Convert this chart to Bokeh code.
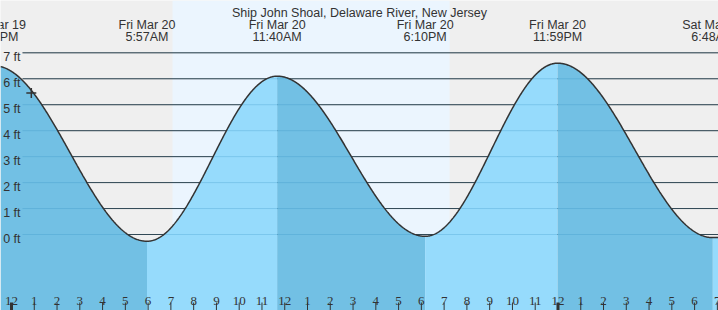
import numpy as np
from bokeh.plotting import figure
from bokeh.models import Range1d, Label
from bokeh.core.properties import value
from bokeh.embed import file_html
from bokeh.resources import INLINE

# ---------------- data (hours since Fri Mar 20 00:00, heights in ft) ----------------
title = "Ship John Shoal, Delaware River, New Jersey"
event_hours = [-0.77, 5.95, 11.667, 18.167, 23.983, 30.8]
event_heights = [6.5, -0.26, 6.1, -0.07, 6.6, -0.12]
event_dates = ["Thu Mar 19", "Fri Mar 20", "Fri Mar 20", "Fri Mar 20", "Fri Mar 20", "Sat Mar 21"]
event_times = ["11:14PM", "5:57AM", "11:40AM", "6:10PM", "11:59PM", "6:48AM"]
ft_levels = [0, 1, 2, 3, 4, 5, 6, 7]
ft_labels = ["0 ft", "1 ft", "2 ft", "3 ft", "4 ft", "5 ft", "6 ft", "7 ft"]
hour_ticks = list(range(0, 32))
hour_labels = ["12", "1", "2", "3", "4", "5", "6", "7", "8", "9", "10", "11",
               "12", "1", "2", "3", "4", "5", "6", "7", "8", "9", "10", "11",
               "12", "1", "2", "3", "4", "5", "6", "7"]
sunrise = 7.07
sunset = 19.24
now_hour = 0.87
now_height = 5.45

# ---------------- layout ----------------
W, H = 718, 310
PX_PER_H = 22.77
X0_PX = 11.0
PX_PER_FT = 25.957
Y0_PX = 234.0

def xdata(px):
    return (px - X0_PX) / PX_PER_H

def ydata(py):
    return (Y0_PX - py) / PX_PER_FT

x_start, x_end = xdata(0), xdata(W)
y_end, y_start = ydata(0), ydata(H)

DARK = "#72c0e4"
LIGHT = "#96dbfc"
INK = "#333333"

p = figure(width=W, height=H, x_range=Range1d(x_start, x_end), y_range=Range1d(y_start, y_end),
           x_axis_type=None, y_axis_type=None, toolbar_location=None, output_backend="svg",
           min_border=0, background_fill_color="#efefef", border_fill_color="#efefef",
           outline_line_color=None)
p.grid.visible = False

# daylight band
p.quad(left=[sunrise], right=[sunset], bottom=[y_start], top=[y_end],
       fill_color="#ebf5fe", line_color=None)

# grid lines
gx0 = xdata(22)
p.segment(x0=[gx0] * len(ft_levels), x1=[x_end] * len(ft_levels), y0=ft_levels, y1=ft_levels,
          line_color=INK, line_width=1)

# tide curve: cosine interpolation between tabulated extremes
def tide(t):
    t = np.asarray(t, dtype=float)
    out = np.full_like(t, event_heights[-1])
    for i in range(len(event_hours) - 1):
        t0, t1 = event_hours[i], event_hours[i + 1]
        h0, h1 = event_heights[i], event_heights[i + 1]
        m = (t >= t0) & (t <= t1)
        f = (1 - np.cos(np.pi * (t[m] - t0) / (t1 - t0))) / 2
        out[m] = h0 + (h1 - h0) * f
    return out

bounds = [x_start] + [e for e in event_hours if x_start < e < x_end] + [x_end]
for a, b in zip(bounds[:-1], bounds[1:]):
    tt = np.linspace(a, b, 200)
    hh = tide(tt)
    mid = (a + b) / 2
    # rising or falling?
    rising = tide([mid + 0.01])[0] > tide([mid - 0.01])[0] if b - a > 0.05 else True
    if b > event_hours[-1] and a >= event_hours[-1]:
        rising = True
    p.varea(x=tt, y1=[y_start] * len(tt), y2=hh, fill_color=LIGHT if rising else DARK)

# grid lines seen through the water
p.segment(x0=[gx0] * len(ft_levels), x1=[x_end] * len(ft_levels), y0=ft_levels, y1=ft_levels,
          line_color="#2a8cc0", line_alpha=0.25, line_width=1)

tt = np.linspace(x_start, x_end, 1200)
p.line(tt, tide(tt), line_color=INK, line_width=1.5)

# ft labels
p.text(x=[xdata(20)] * len(ft_levels), y=[l - 4.4 / PX_PER_FT for l in ft_levels], text=ft_labels,
       text_align="right", text_baseline="alphabetic", text_font=value("Liberation Sans"),
       text_font_size="12.5px", text_color=INK)

# hour ticks and labels
p.segment(x0=hour_ticks, x1=hour_ticks, y0=[ydata(302)] * len(hour_ticks), y1=[y_start] * len(hour_ticks),
          line_color=INK, line_width=[3 if h % 24 == 0 else 1 for h in hour_ticks])
p.text(x=hour_ticks, y=[ydata(300)] * len(hour_ticks), text=hour_labels, text_align="center",
       text_baseline="alphabetic", text_font=value("Liberation Sans Narrow"), text_font_size="13px",
       text_color=INK)

# event labels
p.text(x=event_hours, y=[ydata(24.3)] * len(event_hours), text=event_dates, text_align="center",
       text_baseline="alphabetic", text_font=value("Liberation Sans"), text_font_size="12.5px",
       text_color=INK)
p.text(x=event_hours, y=[ydata(36)] * len(event_hours), text=event_times, text_align="center",
       text_baseline="alphabetic", text_font=value("Liberation Sans"), text_font_size="12.5px",
       text_color=INK)

# now marker
p.scatter(x=[now_hour], y=[now_height], marker="cross", size=10, line_color=INK, line_width=1.5)

# title
p.add_layout(Label(x=359, y=H - 12.7, x_units="screen", y_units="screen", text=title,
                   text_align="center", text_baseline="alphabetic", text_font="Liberation Sans",
                   text_font_size="12.5px", text_color=INK))

open("out.html", "w").write(file_html(p, INLINE))
